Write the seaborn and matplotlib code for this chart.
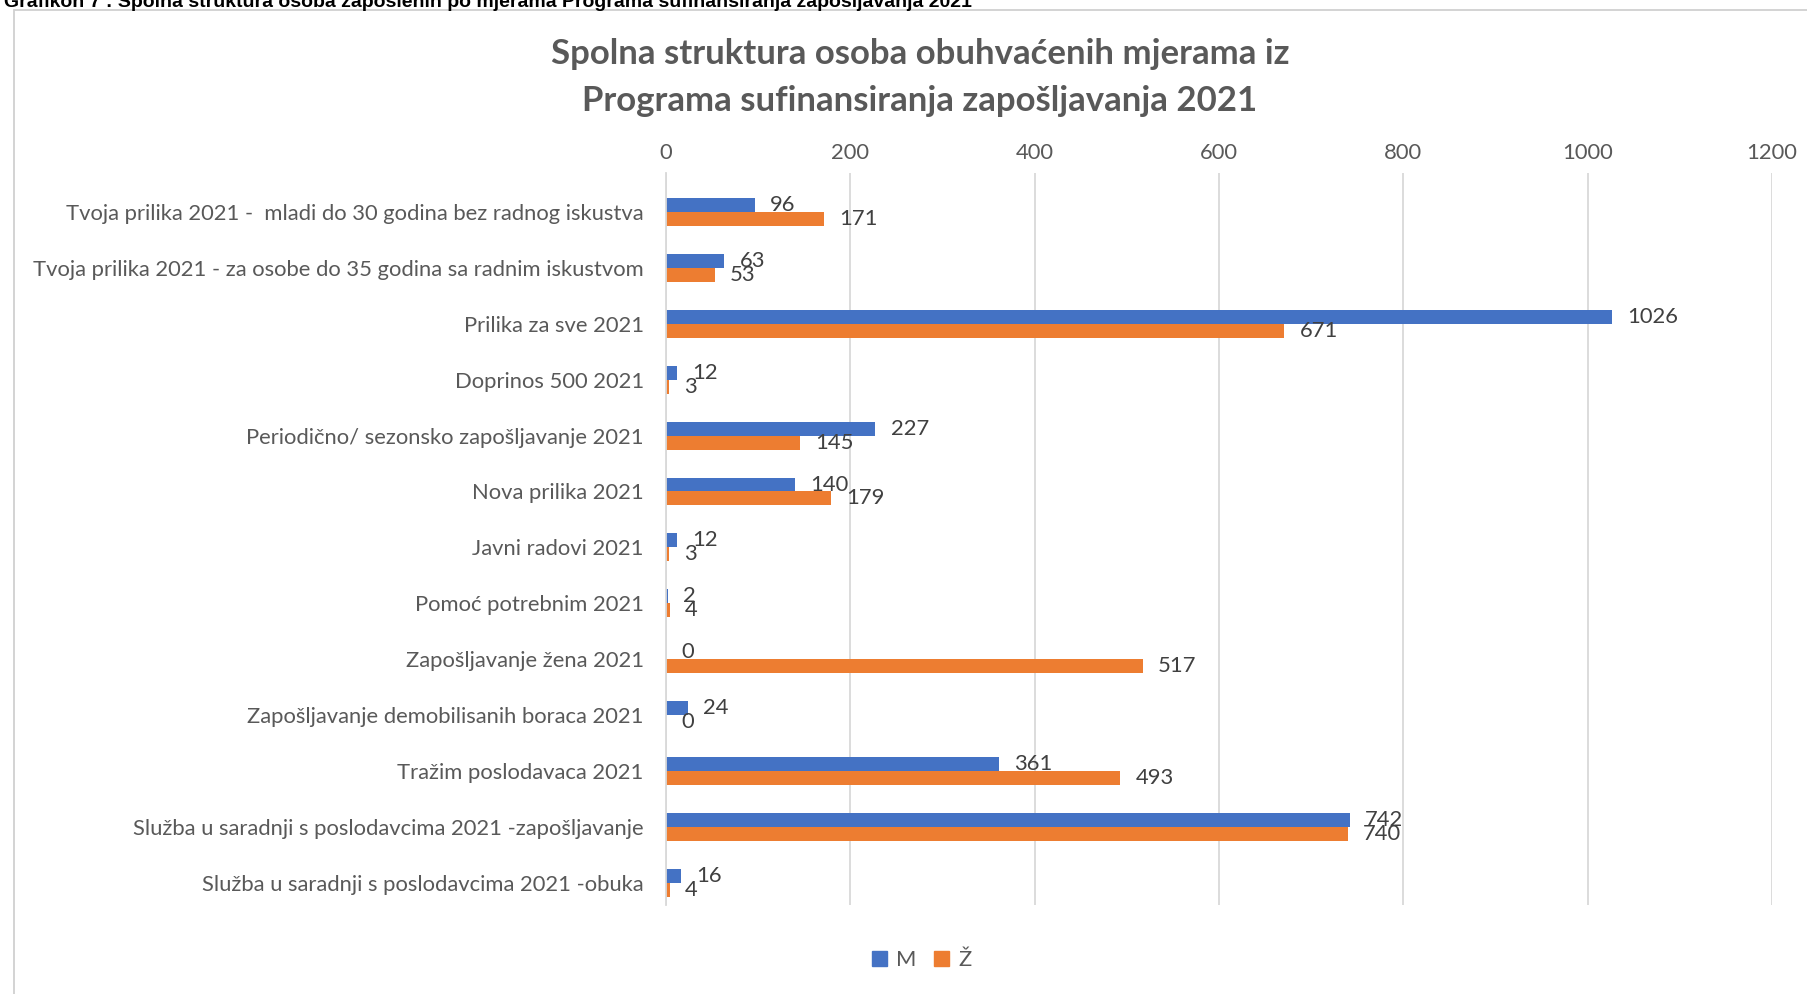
import matplotlib
matplotlib.use("Agg")
import matplotlib.pyplot as plt
import seaborn as sns
import pandas as pd
from matplotlib.patches import Rectangle

categories = [
    "Tvoja prilika 2021 -  mladi do 30 godina bez radnog iskustva",
    "Tvoja prilika 2021 - za osobe do 35 godina sa radnim iskustvom",
    "Prilika za sve 2021",
    "Doprinos 500 2021",
    "Periodično/ sezonsko zapošljavanje 2021",
    "Nova prilika 2021",
    "Javni radovi 2021",
    "Pomoć potrebnim 2021",
    "Zapošljavanje žena 2021",
    "Zapošljavanje demobilisanih boraca 2021",
    "Tražim poslodavaca 2021",
    "Služba u saradnji s poslodavcima 2021 -zapošljavanje",
    "Služba u saradnji s poslodavcima 2021 -obuka",
]
values_m = [96, 63, 1026, 12, 227, 140, 12, 2, 0, 24, 361, 742, 16]
values_z = [171, 53, 671, 3, 145, 179, 3, 4, 517, 0, 493, 740, 4]
series = ["M", "Ž"]
x_ticks = [0, 200, 400, 600, 800, 1000, 1200]

title = "Spolna struktura osoba obuhvaćenih mjerama iz\nPrograma sufinansiranja zapošljavanja 2021"
caption = "Grafikon 7 : Spolna struktura osoba zaposlenih po mjerama Programa sufinansiranja zapošljavanja 2021"

df = pd.DataFrame({
    "Mjera": categories * 2,
    "Spol": [series[0]] * len(categories) + [series[1]] * len(categories),
    "Broj": values_m + values_z,
})

sns.set_theme(style="white")
plt.rcParams["font.family"] = ["Lato", "DejaVu Sans"]

gray = "#595959"
fs = 15.8
fig = plt.figure(figsize=(18.07, 9.94), dpi=100)
ax = fig.add_axes([0.3686, 0.0895, 0.612, 0.7365])

sns.barplot(data=df, y="Mjera", x="Broj", hue="Spol", orient="h",
            palette={"M": "#4472C4", "Ž": "#ED7D31"}, width=0.5,
            ax=ax, legend=False, saturation=1, linewidth=0)

for cont in ax.containers:
    ax.bar_label(cont, padding=11, fontsize=fs, color="#404040")

ax.set_xlim(0, 1200)
ax.set_ylim(12.4, -0.7)
ax.set_xticks(x_ticks)
ax.xaxis.tick_top()
ax.tick_params(axis="x", length=0, pad=7, labelsize=fs, labelcolor=gray)
ax.tick_params(axis="y", length=0, pad=16, labelsize=fs, labelcolor=gray)
ax.grid(axis="x", color="#d9d9d9", linewidth=1.3)
ax.grid(axis="y", visible=False)
ax.set_axisbelow(True)
for s in ["top", "right", "bottom"]:
    ax.spines[s].set_visible(False)
ax.spines["left"].set_color("#d9d9d9")
ax.spines["left"].set_linewidth(1.3)
ax.set_xlabel("")
ax.set_ylabel("")

fig.text(0.509, 0.922, title, ha="center", va="center", fontsize=25,
         fontweight="bold", color=gray, linespacing=1.55)

handles = [Rectangle((0, 0), 1, 1, color="#4472C4"), Rectangle((0, 0), 1, 1, color="#ED7D31")]
fig.legend(handles, series, loc="center", bbox_to_anchor=(0.51, 0.034), ncol=2,
           frameon=False, fontsize=fs, labelcolor=gray, handlelength=0.7,
           handleheight=0.7, handletextpad=0.4, columnspacing=0.8)

frame = Rectangle((14 / 1807, -0.05), 1.2, 1.05 - 10 / 994, transform=fig.transFigure,
                  fill=False, edgecolor="#d0d0d0", linewidth=1.3)
fig.add_artist(frame)
fig.text(0.002, 0.997, caption, ha="left", va="center", fontsize=14,
         fontweight="bold", color="black", family=["Liberation Sans", "DejaVu Sans"])

fig.savefig("out.png", dpi=100)
